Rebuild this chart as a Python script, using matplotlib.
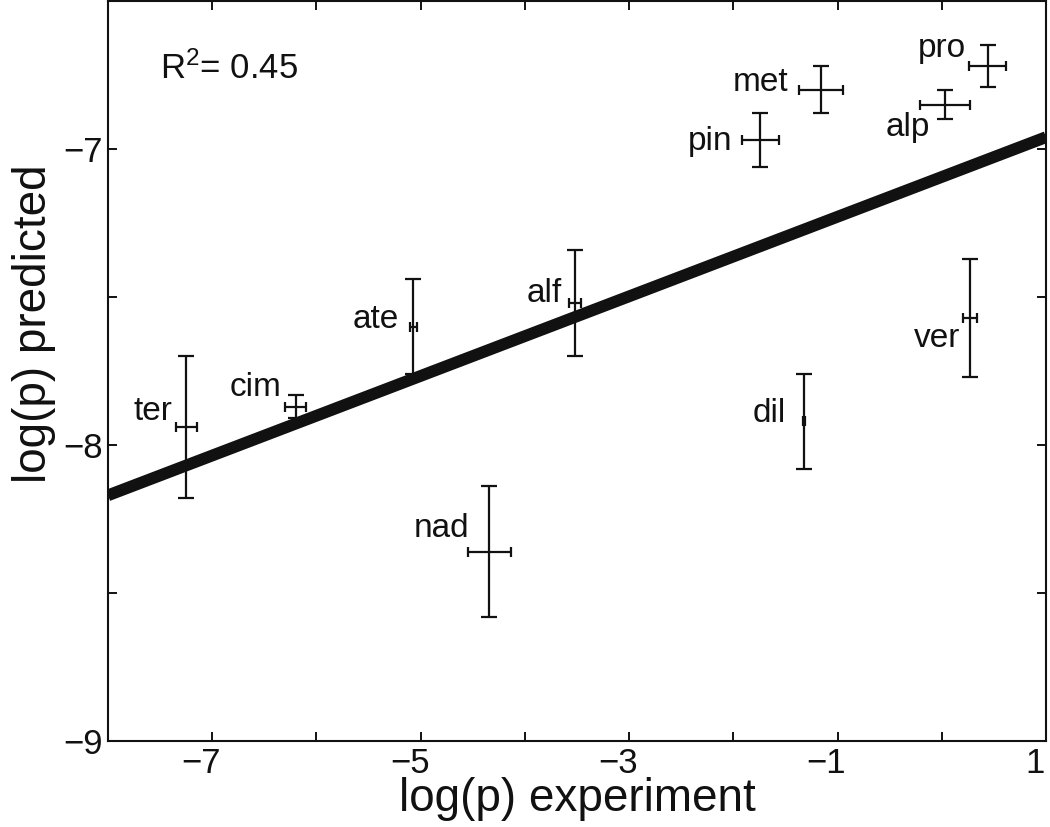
import numpy as np
import matplotlib
matplotlib.use("Agg")
import matplotlib.pyplot as plt
import matplotlib.transforms as mtransforms
from matplotlib import font_manager

plt.rcParams['font.family'] = ['Liberation Sans', 'DejaVu Sans']
plt.rcParams['mathtext.default'] = 'regular'

# values
names = ['ter', 'cim', 'ate', 'alf', 'nad', 'dil', 'ver', 'pin', 'met', 'alp', 'pro']
x_exp = np.array([-7.25, -6.20, -5.07, -3.52, -4.34, -1.32, 0.27, -1.74, -1.16, 0.03, 0.44])
x_err = np.array([0.10, 0.10, 0.035, 0.06, 0.21, 0.01, 0.07, 0.18, 0.21, 0.24, 0.18])
y_pred = np.array([-7.94, -7.87, -7.60, -7.52, -8.36, -7.92, -7.57, -6.97, -6.80, -6.85, -6.72])
y_err = np.array([0.24, 0.04, 0.16, 0.18, 0.22, 0.16, 0.20, 0.09, 0.08, 0.05, 0.07])

# label offsets from each point, pixels (right edge, baseline)
label_dx = [-14, -14, -14, -13, -20, -18, -10, -28, -33, -15, -22]
label_dy = [7, 11, -1, 1, 15, -1, -29, -10, -1, -31, 9]

fit_x = [-8, 1]
fit_y = [-8.17, -6.96]
r2_text = r'R$^2$= 0.45'

x_ticks = np.arange(-8, 2)
x_labels = ['' if t % 2 == 0 else ('%d' % t).replace('-', '\u2212') for t in x_ticks]
y_ticks = np.arange(-9, -6.49, 0.5)
y_labels = [('%d' % t).replace('-', '\u2212') if t == int(t) else '' for t in y_ticks]

# axis titles are set in a tall, narrow face in the original
installed = {f.name for f in font_manager.fontManager.ttflist}
if 'Liberation Sans Narrow' in installed:
    label_font, label_size = 'Liberation Sans Narrow', 41
else:
    label_font, label_size = 'Liberation Sans', 33

fig = plt.figure(figsize=(10.5, 8.27), dpi=100)
ax = fig.add_axes([108 / 1050, 86 / 827, 938 / 1050, 740 / 827])

ax.plot(fit_x, fit_y, color='#111111', lw=8.5, solid_capstyle='butt')

ax.errorbar(x_exp, y_pred, yerr=y_err, fmt='none', ecolor='#111111',
            elinewidth=1.6, capsize=5.8, capthick=1.6)
ax.errorbar(x_exp, y_pred, xerr=x_err, fmt='none', ecolor='#111111',
            elinewidth=1.6, capsize=3.6, capthick=1.6)

for name, x, y, dx, dy in zip(names, x_exp, y_pred, label_dx, label_dy):
    ax.annotate(name, (x, y), xytext=(dx, dy), textcoords='offset pixels',
                ha='right', va='baseline', fontsize=24, color='#111111')

ax.text(-7.5, -6.764, r2_text, ha='left', va='baseline', fontsize=25, color='#111111')

ax.set_xlim(-8, 1)
ax.set_ylim(-9, -6.5)
ax.set_xticks(x_ticks)
ax.set_xticklabels(x_labels)
ax.set_yticks(y_ticks)
ax.set_yticklabels(y_labels)
ax.tick_params(direction='in', length=6.5, width=1.4, labelsize=25,
               top=True, right=True, pad=4, colors='#111111')
for s in ax.spines.values():
    s.set_linewidth(1.5)
    s.set_color('#111111')

# x tick labels sit a little left of their ticks
shift = mtransforms.ScaledTranslation(-11 / 100, 0, fig.dpi_scale_trans)
for lab in ax.get_xticklabels():
    lab.set_transform(lab.get_transform() + shift)

ax.set_xlabel('log(p) experiment', fontsize=label_size, family=[label_font, 'DejaVu Sans'],
              labelpad=-2, color='#111111')
ax.set_ylabel('log(p) predicted', fontsize=label_size, family=[label_font, 'DejaVu Sans'],
              color='#111111')
ax.yaxis.set_label_coords(-0.055, 0.564)

fig.savefig('out.png', dpi=100)
